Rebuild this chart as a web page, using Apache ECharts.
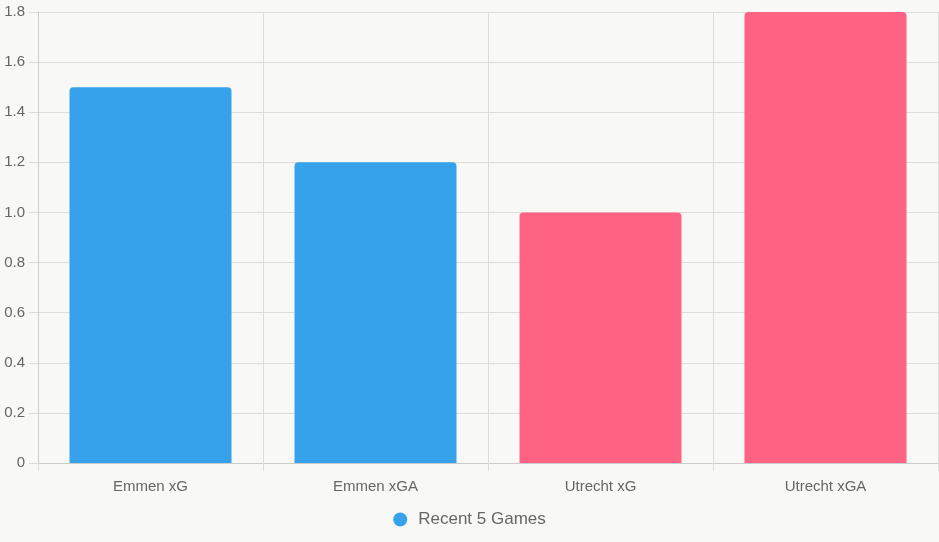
<!DOCTYPE html>
<html>
<head>
<meta charset="utf-8">
<style>
  html, body { margin: 0; padding: 0; background: #f8f8f6; }
  #chart { width: 939px; height: 542px; }
</style>
<script src="https://cdn.jsdelivr.net/npm/echarts@6/dist/echarts.min.js"></script>
</head>
<body>
<div id="chart"></div>
<script>
var categories = ['Emmen xG', 'Emmen xGA', 'Utrecht xG', 'Utrecht xGA'];
var values = [1.5, 1.2, 1.0, 1.8];
var barColors = ['#36A2EB', '#36A2EB', '#FF6384', '#FF6384'];
var seriesName = 'Recent 5 Games';

var chart = echarts.init(document.getElementById('chart'));
var gridColor = '#dcdcdc';
chart.setOption({
    backgroundColor: '#f8f8f6',
    animation: false,
    textStyle: { fontFamily: 'Liberation Sans, Arial, sans-serif' },
    grid: { left: 38, right: 1, top: 12, bottom: 79, containLabel: false },
    legend: {
        bottom: 9,
        left: 'center',
        icon: 'circle',
        itemWidth: 14,
        itemHeight: 14,
        itemGap: 10,
        textStyle: { color: '#666', fontSize: 17, padding: [0, 0, 0, 6] },
        data: [{ name: seriesName, itemStyle: { color: '#36A2EB' } }]
    },
    xAxis: {
        type: 'category',
        data: categories,
        axisLine: { lineStyle: { color: '#cccccc' } },
        axisTick: { show: true, length: 8, lineStyle: { color: gridColor } },
        axisLabel: { color: '#666', fontSize: 15, margin: 16 },
        splitLine: { show: true, lineStyle: { color: gridColor } }
    },
    yAxis: {
        type: 'value',
        min: 0,
        max: 1.8,
        interval: 0.2,
        axisLine: { show: true, lineStyle: { color: '#cccccc' } },
        axisTick: { show: true, length: 9, lineStyle: { color: gridColor } },
        axisLabel: {
            color: '#666',
            fontSize: 15,
            margin: 13,
            formatter: function (v) { return v === 0 ? '0' : v.toFixed(1); }
        },
        splitLine: { lineStyle: { color: gridColor } }
    },
    series: [{
        name: seriesName,
        type: 'bar',
        barWidth: '72%',
        data: values.map(function (v, i) {
            return { value: v, itemStyle: { color: barColors[i] } };
        }),
        itemStyle: { borderRadius: [4, 4, 0, 0] }
    }]
});
</script>
</body>
</html>
